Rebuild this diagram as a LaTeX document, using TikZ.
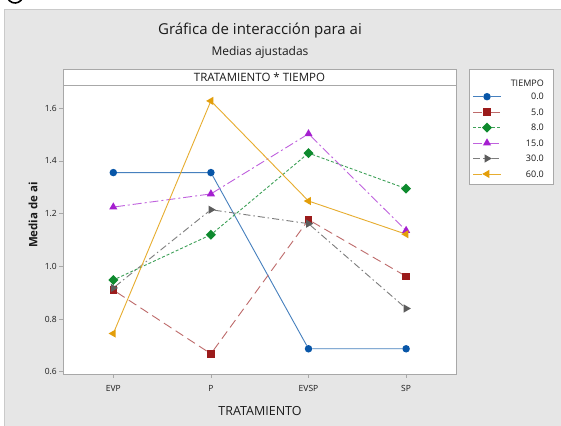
\documentclass[tikz,border=0pt]{standalone}
\usepackage{fontspec}
\setmainfont{Open Sans}
\usetikzlibrary{shapes.geometric}
\pgfdeclarelayer{back}
\pgfdeclarelayer{lines}
\pgfsetlayers{back,lines,main}
\definecolor{panel}{HTML}{E6E6E6}
\definecolor{panelborder}{HTML}{CACACA}
\definecolor{frame}{HTML}{A8A8A8}
\definecolor{txt}{HTML}{1A1A1A}
\definecolor{cblue}{HTML}{0856A8}
\definecolor{cred}{HTML}{9B1B1B}
\definecolor{cgreen}{HTML}{0E8A2E}
\definecolor{cpurple}{HTML}{A51FD0}
\definecolor{cgray}{HTML}{5C5C5C}
\definecolor{corange}{HTML}{E39E0A}
\tikzset{
  mk/.style={inner sep=0pt, outer sep=0pt, draw=none},
  mcirc/.style={mk, circle, minimum size=7.5pt, fill=cblue},
  msq/.style={mk, rectangle, minimum size=7.5pt, fill=cred},
  mdia/.style={mk, diamond, minimum size=10pt, fill=cgreen},
  mtriu/.style={mk, regular polygon, regular polygon sides=3, minimum size=9.5pt, fill=cpurple},
  mtrir/.style={mk, regular polygon, regular polygon sides=3, minimum size=9.5pt, shape border rotate=-90, fill=cgray},
  mtril/.style={mk, regular polygon, regular polygon sides=3, minimum size=9.5pt, shape border rotate=90, fill=corange},
  lzero/.style={cblue!75!white, line width=0.9pt},
  lfive/.style={cred!65!white, line width=0.9pt, dash pattern=on 9pt off 5pt},
  leight/.style={cgreen!80!white, line width=0.9pt, dash pattern=on 3pt off 2pt},
  lfifteen/.style={cpurple!70!white, line width=0.9pt, dash pattern=on 9pt off 3pt on 2pt off 3pt},
  lthirty/.style={cgray!80!white, line width=0.9pt, dash pattern=on 7pt off 3pt on 1.5pt off 3pt},
  lsixty/.style={corange!85!white, line width=0.9pt},
  ticklab/.style={text=txt, font=\fontsize{8.5}{10}\selectfont, inner sep=1pt},
  legtxt/.style={text=txt, font=\fontsize{9}{11}\selectfont, inner sep=0pt, anchor=east},
}
\begin{document}
\begin{tikzpicture}[x=1pt, y=-1pt]
\useasboundingbox (0,0) rectangle (561,425);
\begin{pgfonlayer}{back}
  \fill[panel] (4.5,9.5) rectangle (570,430);
  \draw[panelborder, line width=0.8pt] (4.5,435) -- (4.5,9.5) -- (570,9.5);
  \fill[white] (63,69) rectangle (456,374);
  \draw[frame, line width=0.8pt] (63,69) rectangle (456,85);
  \draw[frame, line width=0.8pt] (63,85) rectangle (456,374);
  \fill[white] (469,69) rectangle (553,184);
  \draw[frame, line width=0.6pt] (469,69) rectangle (553,184);
\end{pgfonlayer}
% cropped symbol at top-left
\draw[line width=1.6pt] (15,-5) ++(20:8) arc[start angle=20, end angle=160, radius=8];
% titles
\node[text=txt, font=\fontsize{15}{18}\selectfont] (title) at (260,31) {Gráfica de interacción para ai};
\node[text=txt, font=\fontsize{12}{14}\selectfont] (subtitle) at (260,52) {Medias ajustadas};
\node[text=txt, font=\fontsize{11.5}{13}\selectfont] (header) at (259.5,77) {TRATAMIENTO * TIEMPO};
% y axis
\foreach \v/\n in {0.6/a,0.8/b,1.0/c,1.2/d,1.4/e,1.6/f}{
  \pgfmathsetmacro{\yy}{529.74-263.4*\v}
  \draw[frame, line width=0.7pt] (59,\yy) -- (63,\yy);
  \node[ticklab, anchor=east] (ty\n) at (58,\yy) {\v};
}
% x axis
\foreach \i/\t in {1/EVP,2/P,3/EVSP,4/SP}{
  \pgfmathsetmacro{\xx}{15.7+97.6*\i}
  \draw[frame, line width=0.7pt] (\xx,374) -- (\xx,378);
  \node[ticklab] (tx\i) at (\xx,388.5) {\t};
}
\node[text=txt, font=\fontsize{12.5}{15}\selectfont] (xlab) at (260,411) {TRATAMIENTO};
\node[text=txt, font=\bfseries\fontsize{11.5}{13}\selectfont, rotate=90] (ylab) at (33,215) {Media de ai};
% data
\begin{scope}[shift={(15.7pt,-529.74pt)}, x=97.6pt, y=263.4pt]
  \foreach \i/\v in {1/0.910,2/0.668,3/1.177,4/0.962} \node[msq] (b\i) at (\i,\v) {};
  \foreach \i/\v in {1/0.918,2/1.215,3/1.162,4/0.840} \node[mtrir] (e\i) at (\i,\v) {};
  \foreach \i/\v in {1/0.948,2/1.120,3/1.430,4/1.295} \node[mdia] (c\i) at (\i,\v) {};
  \foreach \i/\v in {1/1.225,2/1.275,3/1.503,4/1.136} \node[mtriu] (d\i) at (\i,\v) {};
  \foreach \i/\v in {1/0.745,2/1.628,3/1.248,4/1.122} \node[mtril] (f\i) at (\i,\v) {};
  \foreach \i/\v in {1/1.356,2/1.356,3/0.687,4/0.687} \node[mcirc] (a\i) at (\i,\v) {};
\end{scope}
\begin{pgfonlayer}{lines}
  \draw[lzero] (a1) -- (a2) -- (a3) -- (a4);
  \draw[lfive] (b1) -- (b2) -- (b3) -- (b4);
  \draw[leight] (c1) -- (c2) -- (c3) -- (c4);
  \draw[lfifteen] (d1) -- (d2) -- (d3) -- (d4);
  \draw[lthirty] (e1) -- (e2) -- (e3) -- (e4);
  \draw[lsixty] (f1) -- (f2) -- (f3) -- (f4);
\end{pgfonlayer}
% legend
\node[legtxt] (legtitle) at (544,83) {TIEMPO};
\foreach \k/\lab/\mst/\lst in {0/0.0/mcirc/lzero,1/5.0/msq/lfive,2/8.0/mdia/leight,3/15.0/mtriu/lfifteen,4/30.0/mtrir/lthirty,5/60.0/mtril/lsixty}{
  \pgfmathsetmacro{\ly}{96.7+15.45*\k}
  \coordinate (lgl\k) at (473,\ly);
  \coordinate (lgr\k) at (501,\ly);
  \node[\mst] (lgm\k) at (487,\ly) {};
  \begin{pgfonlayer}{lines}
    \draw[\lst] (lgl\k) -- (lgm\k) -- (lgr\k);
  \end{pgfonlayer}
  \node[legtxt] (lgt\k) at (544,\ly) {\lab};
}
\end{tikzpicture}
\end{document}
